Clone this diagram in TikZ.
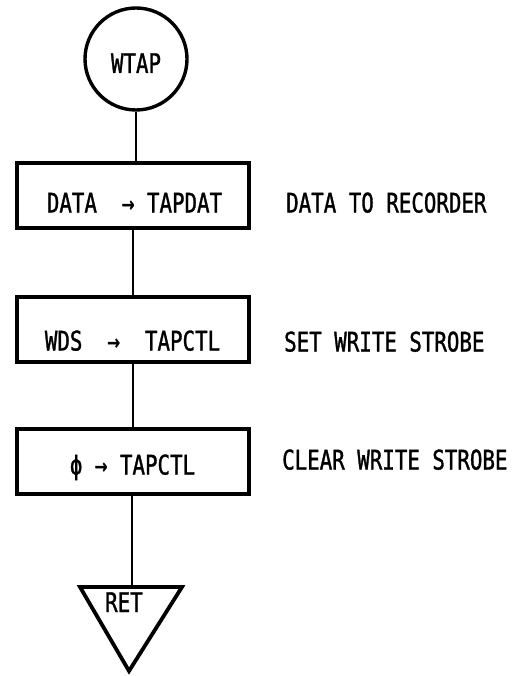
\documentclass[tikz,border=0pt]{standalone}
\usepackage{fontspec}
\setmainfont{DejaVu Sans Mono}[FakeStretch=0.77,FakeBold=1.2]
\begin{document}
\begin{tikzpicture}[x=1pt,y=-1pt,
  boxstyle/.style={draw, line width=3.8pt, minimum width=232pt, minimum height=65pt, inner sep=0pt},
  conn/.style={line width=2.6pt},
  txt/.style={inner sep=0pt, anchor=base, font=\fontsize{27}{32}\selectfont},
  note/.style={inner sep=0pt, anchor=base west, font=\fontsize{27}{32}\selectfont}]
\useasboundingbox (0,0) rectangle (516,676);
% start circle
\node[draw, circle, line width=3.4pt, minimum size=102pt, inner sep=0pt] (c) at (136,59) {};
\node[txt] (ct) at (136,73) {WTAP};
% boxes
\node[boxstyle] (b1) at (133,195.5) {};
\node[boxstyle] (b2) at (133,329.5) {};
\node[boxstyle] (b3) at (133,461.5) {};
\node[txt] (t1) at (134.5,212.5) {DATA\ \ → TAPDAT};
\node[txt] (t2) at (132.5,350.5) {WDS\ \ →\ \ TAPCTL};
\node[txt] (t3) at (132.5,474.5) {ϕ → TAPCTL};
% notes
\node[note] (n1) at (286,212.5) {DATA TO RECORDER};
\node[note] (n2) at (284,351.5) {SET WRITE STROBE};
\node[note] (n3) at (282,469.5) {CLEAR WRITE STROBE};
% return triangle
\coordinate (tl) at (80,587);
\coordinate (tr) at (182,587);
\coordinate (tb) at (129,671);
\draw[line width=3.8pt, line join=miter] (tl) -- (tr) -- (tb) -- cycle;
\node[txt] (ret) at (124,612) {RET};
% connectors
\draw[conn] (c.south) -- (c.south |- b1.north);
\draw[conn] (b1.south) -- (b2.north);
\draw[conn] (b2.south) -- (b3.north);
\draw[conn] ([xshift=-1pt]b3.south) -- ([xshift=-1pt]b3.south |- tl);
\end{tikzpicture}
\end{document}
